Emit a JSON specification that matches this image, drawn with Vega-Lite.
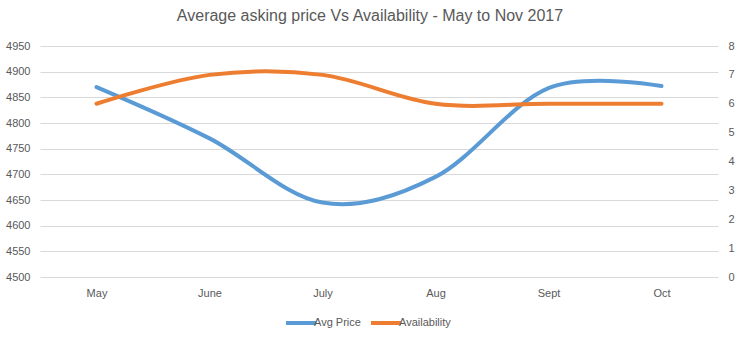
{
  "$schema": "https://vega.github.io/schema/vega-lite/v6.json",
  "width": 678,
  "height": 231,
  "autosize": "none",
  "padding": {"left": 40, "top": 46, "right": 24, "bottom": 60},
  "background": "white",
  "title": {
    "text": "Average asking price Vs Availability - May to Nov 2017",
    "font": "Liberation Sans",
    "fontSize": 16,
    "fontWeight": "normal",
    "color": "#595959",
    "offset": 16,
    "dx": -9
  },
  "config": {
    "view": {"stroke": null},
    "font": "Liberation Sans",
    "axis": {"labelColor": "#595959", "labelFontSize": 11, "domain": false, "ticks": false, "title": null},
    "legend": {"labelColor": "#595959", "labelFontSize": 11}
  },
  "datasets": {
    "price": [
      {"month": "May", "series": "Avg Price", "value": 4870},
      {"month": "June", "series": "Avg Price", "value": 4770},
      {"month": "July", "series": "Avg Price", "value": 4645},
      {"month": "Aug", "series": "Avg Price", "value": 4695},
      {"month": "Sept", "series": "Avg Price", "value": 4868},
      {"month": "Oct", "series": "Avg Price", "value": 4872}
    ],
    "avail": [
      {"month": "May", "series": "Availability", "value": 6},
      {"month": "June", "series": "Availability", "value": 7},
      {"month": "July", "series": "Availability", "value": 7},
      {"month": "Aug", "series": "Availability", "value": 6},
      {"month": "Sept", "series": "Availability", "value": 6},
      {"month": "Oct", "series": "Availability", "value": 6}
    ]
  },
  "encoding": {
    "x": {
      "field": "month",
      "type": "nominal",
      "sort": ["May", "June", "July", "Aug", "Sept", "Oct"],
      "scale": {"type": "point", "padding": 0.5},
      "axis": {"labelAngle": 0, "labelPadding": 10, "grid": false}
    },
    "color": {
      "field": "series",
      "type": "nominal",
      "scale": {"domain": ["Avg Price", "Availability"], "range": ["#5B9BD5", "#ED7D31"]},
      "legend": {
        "title": null,
        "orient": "none",
        "legendX": 244,
        "legendY": 260,
        "direction": "horizontal",
        "symbolType": "stroke",
        "symbolStrokeWidth": 4,
        "symbolSize": 900,
        "labelOffset": -4,
        "columnPadding": 2
      }
    }
  },
  "layer": [
    {
      "data": {"name": "price"},
      "mark": {"type": "line", "interpolate": "cardinal", "strokeWidth": 4, "strokeCap": "round"},
      "encoding": {
        "y": {
          "field": "value",
          "type": "quantitative",
          "scale": {"domain": [4500, 4950], "nice": false, "zero": false},
          "axis": {"values": [4500, 4550, 4600, 4650, 4700, 4750, 4800, 4850, 4900, 4950], "format": "d", "grid": true, "gridColor": "#D9D9D9", "labelPadding": 10, "orient": "left"}
        }
      }
    },
    {
      "data": {"name": "avail"},
      "mark": {"type": "line", "interpolate": "cardinal", "strokeWidth": 4, "strokeCap": "round"},
      "encoding": {
        "y": {
          "field": "value",
          "type": "quantitative",
          "scale": {"domain": [0, 8], "nice": false},
          "axis": {"values": [0, 1, 2, 3, 4, 5, 6, 7, 8], "format": "d", "grid": false, "labelPadding": 10, "orient": "right"}
        }
      }
    }
  ],
  "resolve": {"scale": {"y": "independent"}}
}
